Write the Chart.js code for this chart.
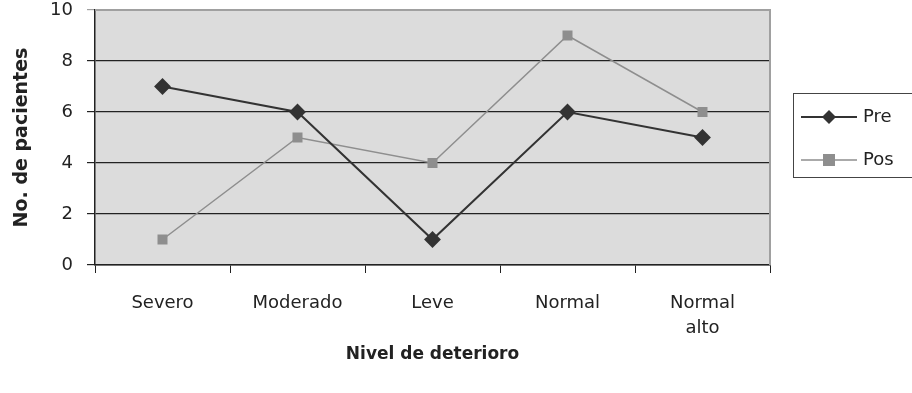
<!DOCTYPE html>
<html>
<head>
<meta charset="utf-8">
<script src="https://cdn.jsdelivr.net/npm/chart.js@4"></script>
<style>
  html, body { margin: 0; padding: 0; background: #fff; }
  #wrap { width: 912px; height: 393px; }
</style>
</head>
<body>
<div id="wrap"><canvas id="chart" width="912" height="393"></canvas></div>
<script>
const categories = ['Severo', 'Moderado', 'Leve', 'Normal', ['Normal', 'alto']];
const preValues = [7, 6, 1, 6, 5];
const posValues = [1, 5, 4, 9, 6];
const yTicks = [0, 2, 4, 6, 8, 10];

const FONT = 'DejaVu Sans';

// gray plot area with thin gray frame
const plotBackground = {
    id: 'plotBackground',
    beforeDraw(chart) {
        const { ctx, chartArea: a } = chart;
        ctx.save();
        ctx.fillStyle = '#dcdcdc';
        ctx.fillRect(a.left, a.top, a.right - a.left, a.bottom - a.top);
        ctx.restore();
    },
    beforeDatasetsDraw(chart) {
        const { ctx, chartArea: a } = chart;
        ctx.save();
        ctx.strokeStyle = '#a0a0a0';
        ctx.lineWidth = 2;
        ctx.beginPath();
        ctx.moveTo(a.left, a.top);
        ctx.lineTo(a.right, a.top);
        ctx.lineTo(a.right, a.bottom);
        ctx.stroke();
        ctx.restore();
    }
};

// boxed legend on the right, line sample with the marker in the middle
const boxLegend = {
    id: 'boxLegend',
    afterDraw(chart) {
        const { ctx } = chart;
        const x = 793, y = 93, w = 125, h = 84;
        ctx.save();
        ctx.strokeStyle = '#444';
        ctx.lineWidth = 1;
        ctx.strokeRect(x + 0.5, y + 0.5, w, h);
        chart.data.datasets.forEach((ds, i) => {
            const cy = y + 24 + i * 43;
            ctx.strokeStyle = ds.borderColor;
            ctx.lineWidth = ds.borderWidth;
            ctx.beginPath();
            ctx.moveTo(x + 8, cy);
            ctx.lineTo(x + 64, cy);
            ctx.stroke();
            ctx.fillStyle = ds.pointBackgroundColor;
            const cx = x + 36;
            if (ds.pointStyle === 'rectRot') {
                ctx.beginPath();
                ctx.moveTo(cx, cy - 7);
                ctx.lineTo(cx + 7, cy);
                ctx.lineTo(cx, cy + 7);
                ctx.lineTo(cx - 7, cy);
                ctx.closePath();
                ctx.fill();
            } else {
                ctx.fillRect(cx - 6, cy - 6, 12, 12);
            }
            ctx.fillStyle = '#222';
            ctx.font = '18px "' + FONT + '"';
            ctx.textBaseline = 'middle';
            ctx.fillText(ds.label, x + 70, cy);
        });
        ctx.restore();
    }
};

new Chart(document.getElementById('chart'), {
    type: 'line',
    data: {
        labels: categories,
        datasets: [
            {
                label: 'Pre',
                data: preValues,
                borderColor: '#333333',
                backgroundColor: '#333333',
                pointBackgroundColor: '#333333',
                pointBorderColor: '#333333',
                borderWidth: 2,
                pointStyle: 'rectRot',
                pointRadius: 7,
                pointHoverRadius: 7,
                tension: 0
            },
            {
                label: 'Pos',
                data: posValues,
                borderColor: '#8e8e8e',
                backgroundColor: '#8e8e8e',
                pointBackgroundColor: '#8e8e8e',
                pointBorderColor: '#8e8e8e',
                borderWidth: 1.5,
                pointStyle: 'rect',
                pointRadius: 6,
                pointHoverRadius: 6,
                tension: 0
            }
        ]
    },
    options: {
        responsive: false,
        animation: false,
        layout: { padding: { left: 0, top: 10, right: 142, bottom: 0 } },
        plugins: {
            legend: { display: false },
            tooltip: { enabled: false }
        },
        scales: {
            x: {
                offset: true,
                afterFit(scale) { scale.height = 128; },
                grid: {
                    offset: true,
                    drawOnChartArea: false,
                    drawTicks: true,
                    tickLength: 8,
                    color: '#222'
                },
                border: { color: '#222', width: 1.5 },
                ticks: {
                    color: '#222',
                    padding: 18,
                    maxRotation: 0,
                    autoSkip: false,
                    font: { family: FONT, size: 18, lineHeight: 1.4 }
                },
                title: {
                    display: true,
                    text: 'Nivel de deterioro',
                    color: '#222',
                    font: { family: FONT, size: 17, weight: 'bold' },
                    padding: { top: 0, bottom: 28 }
                }
            },
            y: {
                min: 0,
                max: 10,
                afterFit(scale) {
                    scale.width = 95;
                    scale.paddingTop = 0;
                    scale.paddingBottom = 0;
                },
                afterBuildTicks(scale) {
                    scale.ticks = yTicks.map(v => ({ value: v }));
                },
                grid: {
                    color: ctx => (ctx.tick && ctx.tick.value === 10) ? '#a0a0a0' : '#222',
                    lineWidth: 1.2,
                    tickLength: 8
                },
                border: { color: '#222', width: 1.5 },
                ticks: {
                    color: '#222',
                    padding: 14,
                    font: { family: FONT, size: 18 }
                },
                title: {
                    display: true,
                    text: 'No. de pacientes',
                    color: '#222',
                    font: { family: FONT, size: 19, weight: 'bold' },
                    padding: { top: 11, bottom: 0 }
                }
            }
        }
    },
    plugins: [plotBackground, boxLegend]
});
</script>
</body>
</html>
